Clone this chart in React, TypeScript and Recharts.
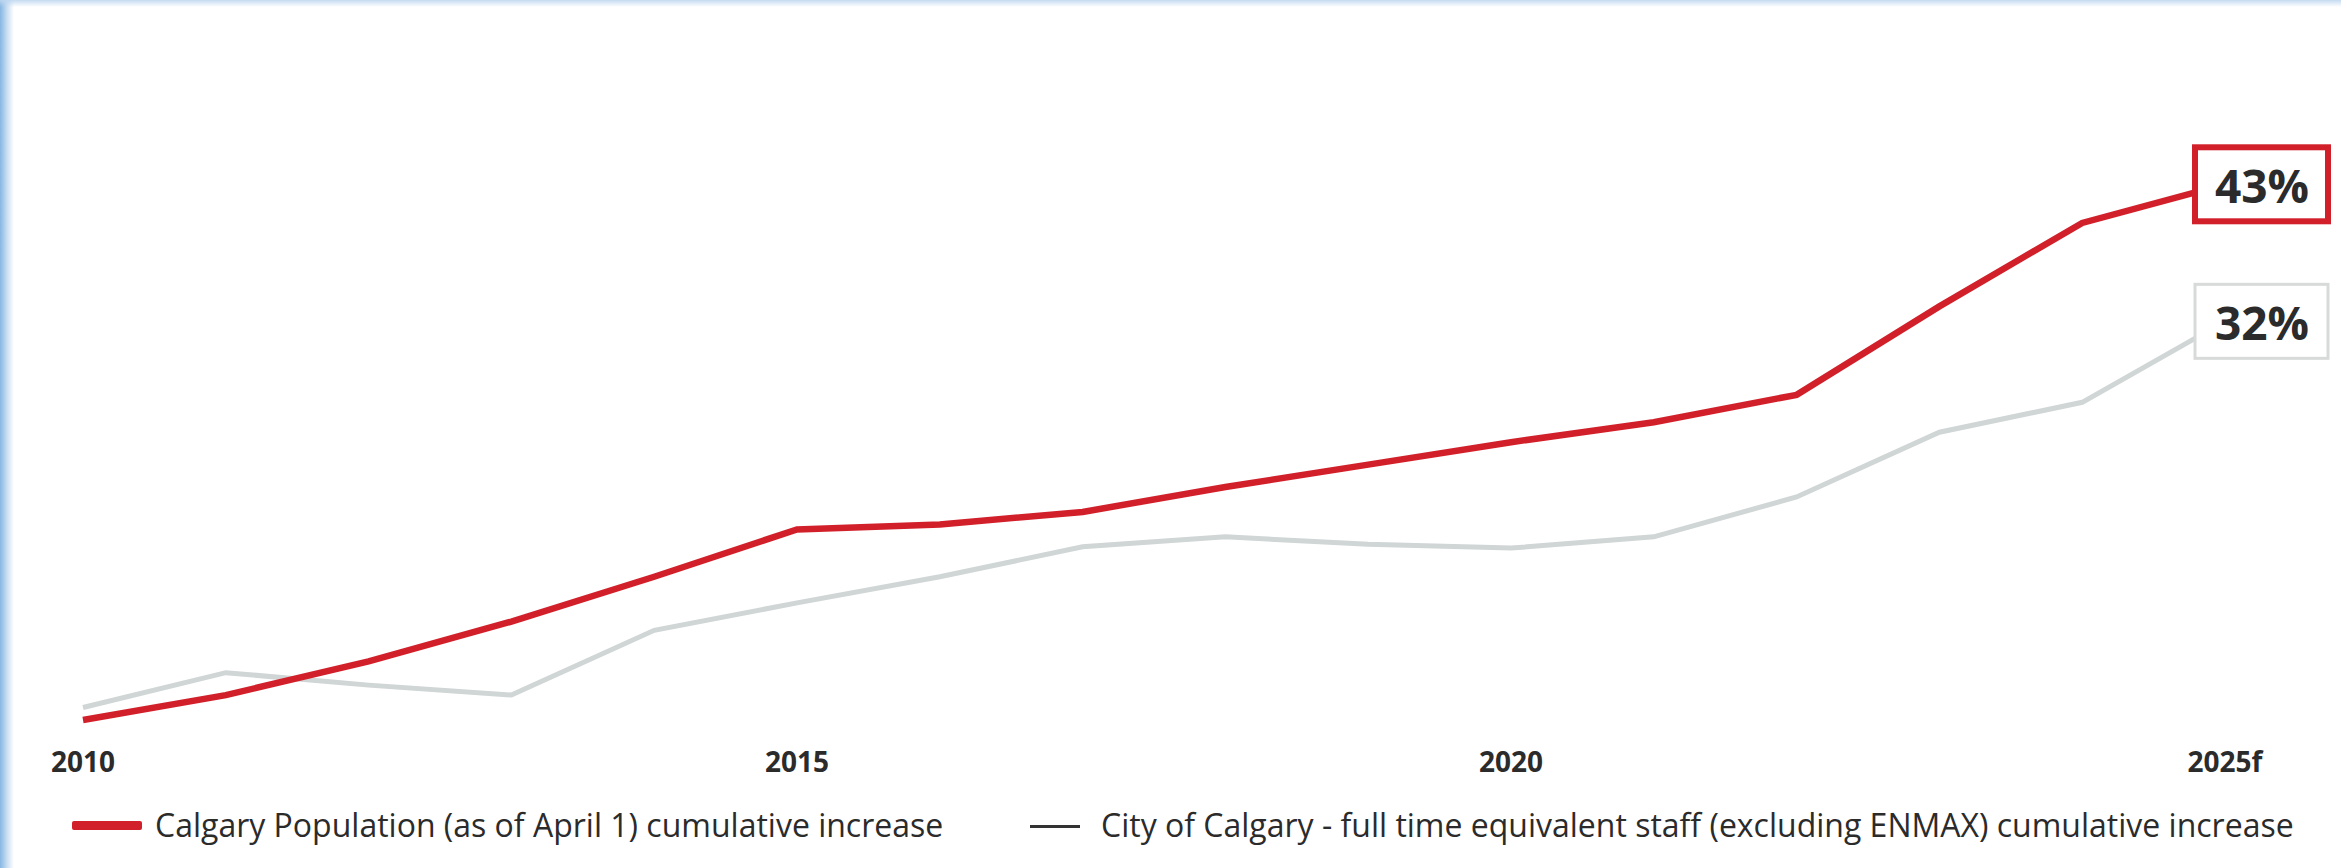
import { LineChart, Line, XAxis, YAxis, Legend, LabelList } from 'recharts';

const years = ['2010', '2011', '2012', '2013', '2014', '2015', '2016', '2017', '2018', '2019', '2020', '2021', '2022', '2023', '2024', '2025f'];
const population = [0, 2.0, 4.7, 7.9, 11.5, 15.3, 15.7, 16.7, 18.7, 20.5, 22.3, 23.9, 26.1, 33.2, 39.9, 43];
const staff = [1.0, 3.8, 2.8, 2.0, 7.2, 9.4, 11.5, 13.9, 14.7, 14.1, 13.8, 14.7, 17.9, 23.1, 25.5, 32];
const endLabels = { population: '43%', staff: '32%' };

const RED = '#d2202b';
const GRAY = '#d0d5d5';
const TEXT = '#2b2b2b';

const data = years.map((year, i) => ({ year, population: population[i], staff: staff[i] }));

function endBox(key, stroke, strokeWidth) {
  return (props) => {
    const { x, y, index } = props;
    if (index !== years.length - 1) return null;
    return (
      <g>
        <rect x={x - 30} y={y - 37} width={133} height={74} fill="#fff" stroke={stroke} strokeWidth={strokeWidth} />
        <text x={x + 37} y={y + 1} textAnchor="middle" dominantBaseline="central" fontFamily="'Open Sans', sans-serif" fontWeight={700} fontSize={46} fill={TEXT}>
          {endLabels[key]}
        </text>
      </g>
    );
  };
}

function renderLegend() {
  const txt = { position: 'absolute', top: 20, fontSize: 32, color: TEXT, fontFamily: "'Open Sans', sans-serif", lineHeight: '50px', whiteSpace: 'nowrap' } as const;
  return (
    <div style={{ position: 'relative', width: 2341, height: 70 }}>
      <div style={{ position: 'absolute', left: 72, top: 41, width: 70, height: 9, background: RED, borderRadius: 2 }} />
      <div style={{ ...txt, left: 155 }}>Calgary Population (as of April 1) cumulative increase</div>
      <div style={{ position: 'absolute', left: 1030, top: 45, width: 50, height: 3, background: '#333' }} />
      <div style={{ ...txt, left: 1101 }}>City of Calgary - full time equivalent staff (excluding ENMAX) cumulative increase</div>
    </div>
  );
}

export default function App() {
  return (
    <div
      style={{
        width: 2341,
        height: 868,
        background:
          'linear-gradient(180deg, rgba(190,215,240,0.9) 0px, rgba(255,255,255,0) 7px), linear-gradient(90deg, #86b6e2 0px, #c9def2 7px, #fff 14px)',
      }}
    >
      <style>{`body{margin:0;}`}</style>
      <LineChart width={2341} height={868} data={data} margin={{ top: 122, right: 116, bottom: 18, left: 83 }}>
        <XAxis
          dataKey="year"
          interval={4}
          axisLine={false}
          tickLine={false}
          tickMargin={26}
          height={60}
          tick={{ fill: TEXT, fontSize: 28, fontWeight: 700, fontFamily: "'Open Sans', sans-serif" }}
        />
        <YAxis hide domain={[0, 48]} />
        <Legend content={renderLegend} verticalAlign="bottom" wrapperStyle={{ left: 0, width: 2341, height: 70 }} />
        <Line dataKey="staff" stroke={GRAY} strokeWidth={5} dot={false} isAnimationActive={false}>
          <LabelList dataKey="staff" content={endBox('staff', '#d8dada', 3)} />
        </Line>
        <Line dataKey="population" stroke={RED} strokeWidth={6.5} dot={false} isAnimationActive={false}>
          <LabelList dataKey="population" content={endBox('population', RED, 6)} />
        </Line>
      </LineChart>
    </div>
  );
}
